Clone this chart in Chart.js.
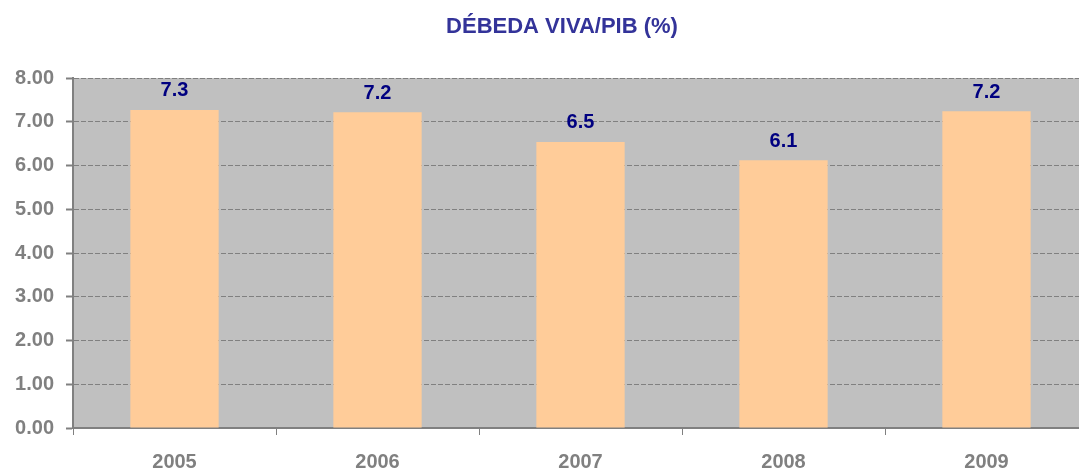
<!DOCTYPE html>
<html>
<head>
<meta charset="utf-8">
<script src="https://cdn.jsdelivr.net/npm/chart.js@4/dist/chart.umd.min.js"></script>
<style>
  html, body { margin: 0; padding: 0; background: #fff; overflow: hidden; }
  #clip { width: 1079px; height: 473px; overflow: hidden; position: relative; }
  #wrap { width: 1090px; height: 473px; position: relative; }
</style>
</head>
<body>
<div id="clip"><div id="wrap"><canvas id="debeda"></canvas></div></div>
<script>
// ---- data ----
const chartTitle = "DÉBEDA VIVA/PIB (%)";
const years = ["2005", "2006", "2007", "2008", "2009"];
const ratios = [7.27, 7.22, 6.54, 6.12, 7.24];
const yMin = 0, yMax = 8, yStep = 1;

const FONT = "'Liberation Sans', Arial, sans-serif";
const GREY = "#808080";

// gray plot area + title (the plot runs off the right edge, like the original)
const plotBg = {
  id: "plotBg",
  beforeDraw(chart) {
    const { ctx, chartArea: a } = chart;
    ctx.save();
    ctx.fillStyle = "#c0c0c0";
    ctx.fillRect(a.left, a.top, a.right - a.left, a.bottom - a.top);
    ctx.fillStyle = "#333399";
    ctx.font = "bold 22px " + FONT;
    ctx.textAlign = "center";
    ctx.textBaseline = "middle";
    ctx.fillText(chartTitle, 562, 27);
    ctx.restore();
  }
};

// value above each bar
const barLabels = {
  id: "barLabels",
  afterDatasetsDraw(chart) {
    const { ctx } = chart;
    const meta = chart.getDatasetMeta(0);
    ctx.save();
    ctx.fillStyle = "#000080";
    ctx.font = "bold 20px " + FONT;
    ctx.textAlign = "center";
    ctx.textBaseline = "middle";
    meta.data.forEach((bar, i) => {
      ctx.fillText(ratios[i].toFixed(1), bar.x, bar.y - 19);
    });
    ctx.restore();
  }
};

new Chart(document.getElementById("debeda"), {
  type: "bar",
  data: {
    labels: years,
    datasets: [{
      data: ratios,
      backgroundColor: "#ffcc99",
      borderWidth: 0,
      barPercentage: 0.435,
      categoryPercentage: 1
    }]
  },
  options: {
    responsive: true,
    maintainAspectRatio: false,
    animation: false,
    layout: { padding: { top: 78, right: 2, bottom: 0, left: 0 } },
    plugins: {
      legend: { display: false },
      title: { display: false },
      tooltip: { enabled: false }
    },
    scales: {
      x: {
        offset: true,
        grid: {
          offset: true,
          drawOnChartArea: false,
          drawTicks: true,
          tickLength: 7,
          color: GREY,
          lineWidth: 1
        },
        border: { display: true, color: GREY, width: 2 },
        ticks: {
          color: GREY,
          padding: 15,
          font: { family: FONT, size: 20, weight: "bold" }
        },
        afterFit(scale) { scale.height = 45; }
      },
      y: {
        min: yMin,
        max: yMax,
        grid: {
          color: GREY,
          lineWidth: 1,
          tickLength: 7,
          tickColor: GREY,
          tickWidth: 2
        },
        border: { display: true, color: GREY, width: 2, dash: [5, 2] },
        ticks: {
          stepSize: yStep,
          color: GREY,
          padding: 12,
          font: { family: FONT, size: 20, weight: "bold" },
          callback: v => v.toFixed(2)
        },
        afterFit(scale) { scale.width = 73; }
      }
    }
  },
  plugins: [plotBg, barLabels]
});
</script>
</body>
</html>
